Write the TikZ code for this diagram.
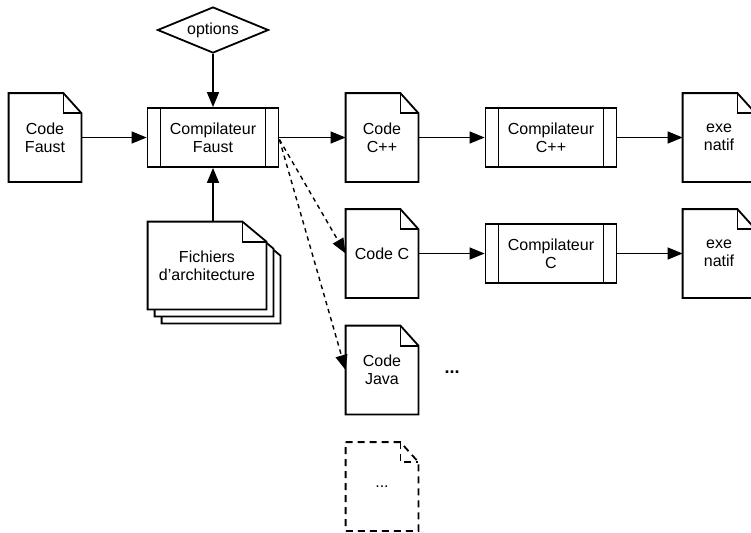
\documentclass[tikz,border=0pt]{standalone}
\usepackage{fontspec}
\setmainfont{Liberation Sans}
\usetikzlibrary{shapes.geometric,arrows.meta,backgrounds}

\tikzset{
  every node/.style={font=\fontsize{8pt}{9pt}\selectfont, align=center},
  doc/.style={minimum width=36pt, minimum height=44pt, inner sep=0pt},
  proc/.style={draw, line width=0.9pt, minimum width=65.5pt, minimum height=29.5pt, inner sep=0pt,
    path picture={\draw[line width=0.9pt]
      ([xshift=6.5pt]path picture bounding box.north west) -- ([xshift=6.5pt]path picture bounding box.south west)
      ([xshift=-6.5pt]path picture bounding box.north east) -- ([xshift=-6.5pt]path picture bounding box.south east);}},
  flow/.style={-{Triangle[length=7.5pt,width=6pt]}, line width=0.7pt},
  maybe/.style={flow, dash pattern=on 2.2pt off 2pt},
}

% page with a folded corner: [options] node, fold width, offset
\newcommand{\pageoutline}[4][]{%
  \draw[line width=0.9pt, fill=white, #1]
    ([xshift=#4,yshift=-#4]#2.north west) -- ([xshift=#4-#3,yshift=-#4]#2.north east)
    -- ([xshift=#4,yshift=-#4-10pt]#2.north east) -- ([xshift=#4,yshift=-#4]#2.south east)
    -- ([xshift=#4,yshift=-#4]#2.south west) -- cycle;
}
\newcommand{\pagefold}[3][]{%
  \draw[line width=0.9pt, #1] ([xshift=-#3]#2.north east) -- ([xshift=-#3,yshift=-10pt]#2.north east)
    -- ([yshift=-10pt]#2.north east);
}

\begin{document}
\begin{tikzpicture}[x=0.5pt, y=-0.5pt]
\useasboundingbox (0,0) rectangle (751,532);
\node[draw, diamond, aspect=2.4, inner sep=0pt, minimum width=55.5pt, minimum height=23pt, line width=0.9pt] (options) at (213,30) {options};
\node[doc] (faust) at (45,137.5) {Code\\Faust};
\node[proc] (compfaust) at (213,137.5) {Compilateur\\Faust};
\node[doc] (cpp) at (382,137.5) {Code\\C++};
\node[proc] (compcpp) at (551,137.5) {Compilateur\\C++};
\node[doc] (execpp) at (719,137.5) {exe\\natif};
\node[doc, minimum width=59pt, minimum height=43.5pt] (archi) at (207,265.5) {Fichiers\\d'architecture};
\node[doc] (codec) at (382,253.5) {Code C};
\node[proc] (compc) at (551,253.5) {Compilateur\\C};
\node[doc] (exec) at (719,253.5) {exe\\natif};
\node[doc] (java) at (382,370) {Code\\Java};
\node[font=\fontsize{9pt}{11pt}\selectfont\bfseries] (etc) at (452,372) {...};
\node[doc] (other) at (382,486.5) {...};

\begin{scope}[on background layer]
\foreach \n in {faust,cpp,execpp,codec,exec,java} {\pageoutline{\n}{9pt}{0pt} \pagefold{\n}{9pt}}
\pageoutline[dash pattern=on 3.5pt off 2.5pt]{other}{9pt}{0pt}
\pagefold[dash pattern=on 3.5pt off 2.5pt]{other}{9pt}
\foreach \s in {7pt,3.5pt,0pt} {\pageoutline{archi}{12pt}{\s}}
\pagefold{archi}{12pt}
\end{scope}

\draw[flow] (options) -- (compfaust);
\draw[flow] (compfaust.south |- archi.north) -- (compfaust);
\draw[flow] (faust) -- (compfaust);
\draw[flow] (compfaust) -- (cpp);
\draw[flow] (cpp) -- (compcpp);
\draw[flow] (compcpp) -- (execpp);
\draw[flow] (codec) -- (compc);
\draw[flow] (compc) -- (exec);
\draw[maybe] ([yshift=-1pt]compfaust.east) -- (codec.west);
\draw[maybe] ([yshift=-1pt]compfaust.east) -- (java.west);
\end{tikzpicture}
\end{document}
